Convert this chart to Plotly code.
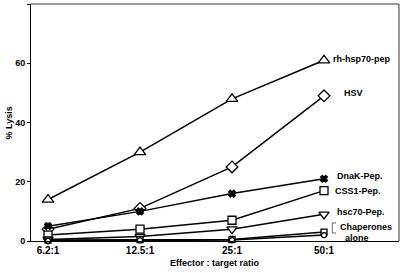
import plotly.graph_objects as go

categories = ["6.2:1", "12.5:1", "25:1", "50:1"]
rh_hsp70_pep = [14, 30, 48, 61]
hsv = [4, 11, 25, 49]
dnak_pep = [5, 10, 16, 21]
css1_pep = [2, 4, 7, 17]
hsc70_pep = [0.5, 1.5, 4, 9]
chap_a = [0.3, 0.5, 0.5, 3]
chap_b = [0.1, 0.2, 0.3, 2]
y_ticks = [0, 20, 40, 60, 80]

xpos = list(range(len(categories)))

series = [
    ("rh-hsp70-pep", rh_hsp70_pep, "triangle-up", 10, "white"),
    ("HSV", hsv, "diamond", 9, "white"),
    ("DnaK-Pep.", dnak_pep, "x", 6, "black"),
    ("CSS1-Pep.", css1_pep, "square", 8, "white"),
    ("hsc70-Pep.", hsc70_pep, "triangle-down", 9, "white"),
    ("Chaperones alone a", chap_a, "square", 6, "white"),
    ("Chaperones alone b", chap_b, "circle", 5, "white"),
]

fig = go.Figure()
for name, vals, sym, sz, fill in series:
    fig.add_trace(go.Scatter(
        x=xpos, y=vals, mode="lines+markers", name=name,
        line=dict(color="black", width=1.5),
        marker=dict(symbol=sym, size=sz, color=fill,
                    line=dict(color="black", width=1.3)),
        showlegend=False, cliponaxis=False,
    ))

font_b = dict(family="Liberation Sans, Arial, sans-serif", size=9, color="black")

labels = [
    ("rh-hsp70-pep", 3.08, 61.5),
    ("HSV", 3.2, 50),
    ("DnaK-Pep.", 3.12, 21.8),
    ("CSS1-Pep.", 3.1, 16.8),
    ("hsc70-Pep.", 3.12, 9.8),
]
for txt, lx, ly in labels:
    fig.add_annotation(x=lx, y=ly, xref="x", yref="y", text="<b>%s</b>" % txt,
                       showarrow=False, xanchor="left", yanchor="middle", font=font_b)
fig.add_annotation(x=3.15, y=4.6, xref="x", yref="y", text="<b>Chaperones</b>",
                   showarrow=False, xanchor="left", yanchor="middle", font=font_b)
fig.add_annotation(x=3.21, y=1.0, xref="x", yref="y", text="<b>alone</b>",
                   showarrow=False, xanchor="left", yanchor="middle", font=font_b)
# bracket
fig.add_shape(type="path", xref="x", yref="y",
              path="M 3.13 6.1 L 3.09 6.1 L 3.09 2.7 L 3.13 2.7",
              line=dict(color="#666", width=1))

# axis titles as annotations
fig.add_annotation(x=0.5, y=-0.065, xref="paper", yref="paper", yanchor="top",
                   text="<b>Effector : target ratio</b>", showarrow=False, font=font_b)
fig.add_annotation(x=-0.06, y=0.5, xref="paper", yref="paper", xanchor="center",
                   text="<b>% Lysis</b>", showarrow=False, font=font_b, textangle=-90)

fig.update_layout(
    width=400, height=273,
    margin=dict(l=31, r=1, t=4, b=32, autoexpand=False),
    plot_bgcolor="white", paper_bgcolor="white",
    font=dict(family="Liberation Sans, Arial, sans-serif", size=9, color="black"),
    xaxis=dict(
        range=[-0.185, 3.815], tickvals=xpos, ticktext=["<b>%s</b>" % c for c in categories],
        tickfont=dict(size=10),
        showgrid=False, zeroline=False, showline=True, linecolor="black", linewidth=1,
        ticks="", automargin=False,
    ),
    yaxis=dict(
        range=[0, 80], tickvals=y_ticks, ticktext=["<b>%d</b>" % v for v in y_ticks],
        showgrid=False, zeroline=False, showline=True, linecolor="black", linewidth=1,
        ticks="outside", ticklen=3, tickcolor="black", automargin=False,
    ),
)
# top and right frame lines (grey)
fig.add_shape(type="line", xref="paper", yref="paper", x0=0, x1=1, y0=1, y1=1,
              line=dict(color="#777", width=1.5))
fig.add_shape(type="line", xref="paper", yref="paper", x0=1, x1=1, y0=0, y1=1,
              line=dict(color="#777", width=1.5))

fig.write_html("out.html", config={"displayModeBar": False},
               post_script="document.body.style.margin='0';document.body.style.overflow='hidden';")
